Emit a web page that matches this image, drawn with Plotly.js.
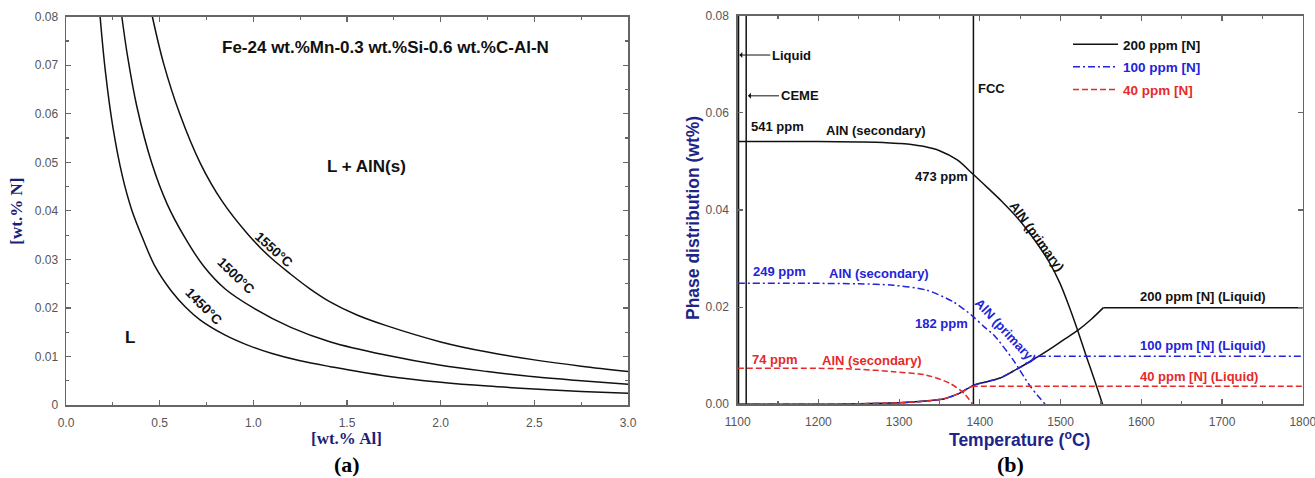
<!DOCTYPE html>
<html>
<head>
<meta charset="utf-8">
<script src="https://cdn.plot.ly/plotly-3.0.1.min.js"></script>
<style>html,body{margin:0;padding:0;background:#fff;}#chart{width:1315px;height:478px;}</style>
</head>
<body>
<div id="chart"></div>
<script>
// ---------- Panel (a): solubility curves [wt.% N] vs [wt.% Al] ----------
const al1450 = [0.182, 0.21, 0.25, 0.30, 0.35, 0.413, 0.476, 0.56, 0.64, 0.717, 0.85, 0.966, 1.1, 1.25, 1.412, 1.706, 2.0, 2.25, 2.5, 2.75, 3.0];
const n1450  = [0.080, 0.0688, 0.0573, 0.0473, 0.0403, 0.0340, 0.0285, 0.0236, 0.0201, 0.0175, 0.0144, 0.0124, 0.0106, 0.0091, 0.0079, 0.0060, 0.0047, 0.0039, 0.0033, 0.0028, 0.0024];
const al1500 = [0.298, 0.33, 0.378, 0.458, 0.54, 0.63, 0.733, 0.85, 1.0, 1.2, 1.412, 1.706, 2.0, 2.25, 2.5, 2.75, 3.0];
const n1500  = [0.080, 0.0715, 0.0615, 0.0498, 0.0414, 0.0348, 0.0287, 0.0239, 0.0200, 0.0160, 0.0130, 0.0103, 0.0082, 0.0069, 0.0058, 0.0050, 0.0043];
const al1550 = [0.461, 0.52, 0.607, 0.717, 0.833, 0.966, 1.08, 1.198, 1.30, 1.412, 1.55, 1.706, 2.0, 2.25, 2.5, 2.75, 3.0];
const n1550  = [0.080, 0.0705, 0.060, 0.0498, 0.0420, 0.0354, 0.0308, 0.0270, 0.0240, 0.0212, 0.0186, 0.0164, 0.0130, 0.0109, 0.0093, 0.0080, 0.0069];
const aXTicks = [0, 0.5, 1.0, 1.5, 2.0, 2.5, 3.0];
const aXTickText = ['0.0', '0.5', '1.0', '1.5', '2.0', '2.5', '3.0'];
const aYTicks = [0, 0.01, 0.02, 0.03, 0.04, 0.05, 0.06, 0.07, 0.08];
const aYTickText = ['0', '0.01', '0.02', '0.03', '0.04', '0.05', '0.06', '0.07', '0.08'];

// ---------- Panel (b): phase distribution vs temperature ----------
const tAlN200 = [1100, 1150, 1200, 1250, 1280, 1300, 1315, 1330, 1350, 1372, 1392, 1410, 1427, 1450, 1470, 1485, 1499, 1510, 1522, 1532, 1542, 1552];
const nAlN200 = [0.0541, 0.0541, 0.0541, 0.0540, 0.0539, 0.0537, 0.0535, 0.0531, 0.0522, 0.0503, 0.0473, 0.0445, 0.0418, 0.0377, 0.0333, 0.0295, 0.0250, 0.0204, 0.0148, 0.0098, 0.0050, 0.0];
const tLiq200 = [1100, 1200, 1250, 1280, 1300, 1320, 1340, 1355, 1375, 1392, 1410, 1425, 1440, 1458, 1475, 1491, 1505, 1522, 1538, 1553, 1800];
const nLiq200 = [0, 0, 0.0001, 0.0002, 0.0003, 0.0005, 0.0008, 0.0011, 0.0023, 0.0039, 0.0047, 0.0054, 0.0067, 0.0084, 0.0101, 0.0118, 0.0134, 0.0153, 0.0175, 0.0199, 0.0199];
const tAlN100 = [1100, 1200, 1250, 1293, 1334, 1367, 1384, 1392, 1405, 1417, 1441, 1462, 1481];
const nAlN100 = [0.0249, 0.0249, 0.0248, 0.0245, 0.0235, 0.0211, 0.0191, 0.0180, 0.0160, 0.0143, 0.0092, 0.0038, 0.0];
const tLiq100 = [1100, 1200, 1250, 1280, 1300, 1320, 1340, 1355, 1375, 1392, 1410, 1425, 1440, 1458, 1473, 1800];
const nLiq100 = [0, 0, 0.0001, 0.0002, 0.0003, 0.0005, 0.0008, 0.0011, 0.0023, 0.0039, 0.0047, 0.0054, 0.0067, 0.0084, 0.0099, 0.0099];
const tAlN40 = [1100, 1200, 1250, 1293, 1334, 1363, 1380, 1391];
const nAlN40 = [0.0074, 0.0074, 0.0072, 0.0067, 0.0060, 0.0043, 0.0023, 0.0];
const tLiq40 = [1100, 1200, 1250, 1280, 1300, 1320, 1340, 1355, 1375, 1390, 1800];
const nLiq40 = [0, 0, 0.0001, 0.0002, 0.0003, 0.0005, 0.0008, 0.0011, 0.0023, 0.0037, 0.0037];
const phaseLinesT = [1101, 1110.5, 1392];
const bYMax = 0.08;
const bXTicks = [1100, 1200, 1300, 1400, 1500, 1600, 1700, 1800];
const legendNames = ['200 ppm [N]', '100 ppm [N]', '40 ppm [N]'];

const BLACK = '#111111', BLUE = '#2323d8', RED = '#e52a2a';
const AX = '#666666';
const SANS = 'Liberation Sans, Arial, sans-serif';
const TXT = {family: SANS, size: 13, color: '#111', weight: 'bold'};
const DASH = {dash: '6px,3px', dashdot: '7px,3px,2px,3px'};

const traces = [];
function ln(x, y, xa, ya, color, dash, opt) {
  opt = opt || {};
  traces.push({x: x, y: y, xaxis: xa, yaxis: ya, type: 'scatter', mode: 'lines',
    line: {color: color, width: 1.5, dash: DASH[dash] || 'solid', shape: opt.spline ? 'spline' : 'linear', smoothing: opt.spline || 0},
    name: opt.name || '', showlegend: !!opt.name, legendgroup: opt.name || undefined, hoverinfo: 'skip'});
}
// curve + straight plateau (the last two points) drawn separately so the corner stays sharp
function liq(t, n, color, dash) {
  const k = t.length - 2;
  ln(t.slice(0, k + 1), n.slice(0, k + 1), 'x2', 'y2', color, dash, {spline: 0.8});
  ln(t.slice(k), n.slice(k), 'x2', 'y2', color, dash);
}
ln(al1450, n1450, 'x', 'y', BLACK, null, {spline: 1});
ln(al1500, n1500, 'x', 'y', BLACK, null, {spline: 1});
ln(al1550, n1550, 'x', 'y', BLACK, null, {spline: 1});

phaseLinesT.forEach(t => ln([t, t], [0, bYMax], 'x2', 'y2', BLACK));
liq(tLiq200, nLiq200, BLACK, null);
ln(tAlN200, nAlN200, 'x2', 'y2', BLACK, null, {spline: 0.8, name: legendNames[0]});
liq(tLiq100, nLiq100, BLUE, 'dashdot');
ln(tAlN100, nAlN100, 'x2', 'y2', BLUE, 'dashdot', {spline: 0.8, name: '<span style="color:' + BLUE + '">' + legendNames[1] + '</span>'});
liq(tLiq40, nLiq40, RED, 'dash');
ln(tAlN40, nAlN40, 'x2', 'y2', RED, 'dash', {spline: 0.8, name: '<span style="color:' + RED + '">' + legendNames[2] + '</span>'});

function axisBase(standoff) {
  return {showline: true, linecolor: AX, linewidth: 1.5, mirror: 'ticks', ticks: 'inside', ticklen: 5,
    tickcolor: AX, tickwidth: 1.2, showgrid: false, zeroline: false, fixedrange: true, ticklabelstandoff: standoff,
    ticklabeloverflow: 'allow', tickfont: {family: SANS, size: 12, color: '#555'}};
}
const xa = Object.assign(axisBase(6), {domain: [0.0502, 0.4776], range: [0, 3], tickmode: 'array', tickvals: aXTicks, ticktext: aXTickText,
  minor: {dtick: 0.25, ticks: 'inside', ticklen: 3, tickcolor: AX}, anchor: 'y'});
const ya = Object.assign(axisBase(4), {domain: [0.1527, 0.965], range: [0, 0.08], tickmode: 'array', tickvals: aYTicks, ticktext: aYTickText,
  minor: {dtick: 0.005, ticks: 'inside', ticklen: 3, tickcolor: AX}, anchor: 'x'});
const xb = Object.assign(axisBase(6), {domain: [0.561, 0.9907], range: [1100, 1800], tickmode: 'array', tickvals: bXTicks,
  minor: {dtick: 50, tick0: 1100, ticks: 'inside', ticklen: 3, tickcolor: AX}, anchor: 'y2'});
const yb = Object.assign(axisBase(5), {domain: [0.1542, 0.9672], range: [0, 0.08], dtick: 0.02, tickformat: '.2f', anchor: 'x2'});

function A(x, y, text, opts) {
  return Object.assign({x: x, y: y, text: text, showarrow: false, xanchor: 'center', yanchor: 'middle', font: Object.assign({}, TXT)}, opts || {});
}
const ann = [];
// panel (a)
const BIG = Object.assign({}, TXT, {size: 17});
ann.push(A(1.705, 0.0736, 'Fe-24 wt.%Mn-0.3 wt.%Si-0.6 wt.%C-Al-N', {xref: 'x', yref: 'y', font: BIG}));
ann.push(A(1.602, 0.0491, 'L + AlN(s)', {xref: 'x', yref: 'y', font: BIG}));
ann.push(A(0.342, 0.0140, 'L', {xref: 'x', yref: 'y', font: BIG}));
ann.push(A(1.107, 0.0320, '1550°C', {xref: 'x', yref: 'y', textangle: 42, font: Object.assign({}, TXT, {size: 13.5})}));
ann.push(A(0.904, 0.0266, '1500°C', {xref: 'x', yref: 'y', textangle: 44, font: Object.assign({}, TXT, {size: 13.5})}));
ann.push(A(0.735, 0.0203, '1450°C', {xref: 'x', yref: 'y', textangle: 45, font: Object.assign({}, TXT, {size: 13.5})}));
// panel (b)
const b = {xref: 'x2', yref: 'y2'};
ann.push(Object.assign(A(1102, 0.0719, 'Liquid', {xanchor: 'left', showarrow: true, ax: 31, ay: 0, arrowhead: 1, arrowsize: 1, arrowwidth: 1, arrowcolor: BLACK}), b));
ann.push(Object.assign(A(1112.7, 0.0635, 'CEME', {xanchor: 'left', showarrow: true, ax: 31, ay: 0, arrowhead: 1, arrowsize: 1, arrowwidth: 1, arrowcolor: BLACK}), b));
ann.push(Object.assign(A(1149.9, 0.0571, '541 ppm'), b));
ann.push(Object.assign(A(1270.8, 0.0564, 'AlN (secondary)'), b));
ann.push(Object.assign(A(1351.9, 0.0468, '473 ppm'), b));
ann.push(Object.assign(A(1415, 0.0651, 'FCC'), b));
ann.push(Object.assign(A(1470.9, 0.0346, 'AlN (primary)', {textangle: 54}), b));
ann.push(Object.assign(A(1676.7, 0.0221, '200 ppm [N] (Liquid)'), b));
ann.push(Object.assign(A(1676.7, 0.0120, '100 ppm [N] (Liquid)', {font: Object.assign({}, TXT, {color: BLUE})}), b));
ann.push(Object.assign(A(1671.7, 0.0058, '40 ppm [N] (Liquid)', {font: Object.assign({}, TXT, {color: RED})}), b));
ann.push(Object.assign(A(1151.2, 0.0274, '249 ppm', {font: Object.assign({}, TXT, {color: BLUE})}), b));
ann.push(Object.assign(A(1275, 0.0270, 'AlN (secondary)', {font: Object.assign({}, TXT, {color: BLUE})}), b));
ann.push(Object.assign(A(1351.9, 0.0167, '182 ppm', {font: Object.assign({}, TXT, {color: BLUE})}), b));
ann.push(Object.assign(A(1431.2, 0.0151, 'AlN (primary)', {textangle: 47, font: Object.assign({}, TXT, {color: BLUE})}), b));
ann.push(Object.assign(A(1146.2, 0.0093, '74 ppm', {font: Object.assign({}, TXT, {color: RED})}), b));
ann.push(Object.assign(A(1266.4, 0.0091, 'AlN (secondary)', {font: Object.assign({}, TXT, {color: RED})}), b));
// axis titles & panel labels
const P = {xref: 'paper', yref: 'paper'};
const SERIF = 'Liberation Serif, Times New Roman, serif';
ann.push(Object.assign(A(16.7 / 1315, 1 - 211 / 478, '[wt.% N]', {textangle: -90, font: {family: SERIF, size: 17, color: '#1e1e78', weight: 'bold'}}), P));
ann.push(Object.assign(A(346 / 1315, 1 - 438 / 478, '[wt.% Al]', {font: {family: SERIF, size: 17, color: '#1e1e78', weight: 'bold'}}), P));
ann.push(Object.assign(A(347 / 1315, 1 - 464 / 478, '(a)', {font: {family: SERIF, size: 22, color: '#000', weight: 'bold'}}), P));
ann.push(Object.assign(A(693 / 1315, 1 - 218 / 478, 'Phase distribution (wt%)', {textangle: -90, font: {family: SANS, size: 17.5, color: '#1e2488', weight: 'bold'}}), P));
ann.push(Object.assign(A(1019 / 1315, 1 - 439 / 478, 'Temperature (<sup>o</sup>C)', {font: {family: SANS, size: 17.5, color: '#1e2488', weight: 'bold'}}), P));
ann.push(Object.assign(A(1011 / 1315, 1 - 464 / 478, '(b)', {font: {family: SERIF, size: 22, color: '#000', weight: 'bold'}}), P));

const layout = {
  width: 1315, height: 478, margin: {l: 0, r: 0, t: 0, b: 0}, paper_bgcolor: '#fff', plot_bgcolor: '#fff',
  xaxis: xa, yaxis: ya, xaxis2: xb, yaxis2: yb,
  showlegend: true,
  legend: {x: 1068 / 1315, y: 1 - 29 / 478, xanchor: 'left', yanchor: 'top', bgcolor: 'rgba(0,0,0,0)', traceorder: 'grouped',
    font: {family: SANS, size: 13.5, color: BLACK, weight: 'bold'}, itemwidth: 45, tracegroupgap: 2},
  annotations: ann
};
Plotly.newPlot('chart', traces, layout, {displayModeBar: false, staticPlot: true});
</script>
</body>
</html>
